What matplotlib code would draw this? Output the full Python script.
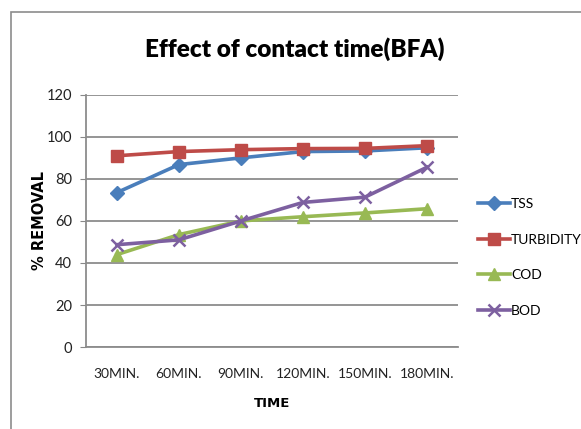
import matplotlib.pyplot as plt
from matplotlib.patches import Rectangle

# contact time vs % removal (BFA)
times = ['30MIN.', '60MIN.', '90MIN.', '120MIN.', '150MIN.', '180MIN.']
tss = [73.5, 86.8, 90.0, 93.0, 93.3, 94.8]
turbidity = [91.0, 93.0, 93.9, 94.4, 94.5, 95.8]
cod = [44.0, 53.5, 60.0, 62.0, 63.8, 65.8]
bod = [48.7, 51.0, 60.0, 68.8, 71.3, 85.5]

plt.rcParams['font.family'] = ['Lato', 'DejaVu Sans']

fig = plt.figure(figsize=(5.81, 4.29), dpi=100)
ax = fig.add_axes([0.148, 0.191, 0.640, 0.588])

x = range(len(times))
ax.plot(x, tss, color='#4A7EBB', lw=2.6, marker='D', ms=7, label='TSS')
ax.plot(x, turbidity, color='#BE4B48', lw=2.6, marker='s', ms=8.5, label='TURBIDITY')
ax.plot(x, cod, color='#98B954', lw=2.6, marker='^', ms=8.5, label='COD')
ax.plot(x, bod, color='#7D60A0', lw=2.6, marker='x', ms=8, mew=1.8, label='BOD')

ax.set_xlim(-0.5, len(times) - 0.5)
ax.set_ylim(0, 120)
ax.set_yticks(range(0, 121, 20))
ax.set_xticks(list(x))
ax.set_xticklabels(times)
ax.tick_params(axis='x', length=0, pad=15, labelsize=10, colors='#222222')
ax.tick_params(axis='y', length=4, color='#888888', pad=6, labelsize=10.5, colors='#222222')
ax.yaxis.grid(True, color='#8c8c8c', lw=1.3)
ax.set_axisbelow(True)
for side in ['top', 'right']:
    ax.spines[side].set_visible(False)
for side in ['left', 'bottom']:
    ax.spines[side].set_color('#8c8c8c')
    ax.spines[side].set_linewidth(1.3)

ax.set_xlabel('TIME', fontsize=9.5, fontweight='bold', family='DejaVu Sans', labelpad=12)
ax.set_ylabel('% REMOVAL', fontsize=10.5, fontweight='bold', family='DejaVu Sans', labelpad=0)

fig.text(0.508, 0.885, 'Effect of contact time(BFA)', ha='center', va='center',
         fontsize=17.5, fontweight='heavy')

ax.legend(loc='center left', bbox_to_anchor=(1.02, 0.355), frameon=False,
          fontsize=10, labelspacing=1.7, handlelength=2.3, handletextpad=0.1)

# outer chart frame
fig.patches.append(Rectangle((11 / 581, -0.1), 1.2, 1 - 12 / 429 + 0.1,
                             transform=fig.transFigure, fill=False,
                             edgecolor='#8c8c8c', lw=1.2))

fig.savefig('out.png', dpi=100)
